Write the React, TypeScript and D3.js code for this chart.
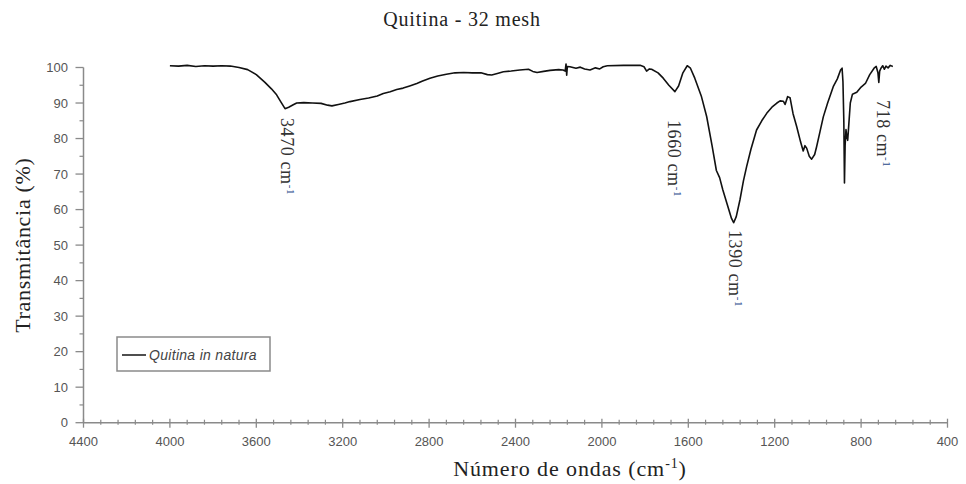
import React from "react";
import * as d3 from "d3";

// FTIR spectrum of chitin (32 mesh): wavenumber (cm-1) and transmittance (%)
const wavenumbers = [
  4000, 3960, 3920, 3880, 3840, 3800, 3760, 3720, 3680, 3640, 3600, 3560, 3530, 3506, 3485, 3467,
  3450, 3429, 3413, 3380, 3340, 3300, 3270, 3250, 3220, 3190, 3166, 3120, 3080, 3040, 3012, 2980,
  2950, 2920, 2890, 2857, 2830, 2796, 2760, 2720, 2680, 2640, 2600, 2560, 2530, 2510, 2480, 2456,
  2420, 2380, 2340, 2320, 2300, 2270, 2240, 2200, 2180, 2170, 2166, 2163, 2160, 2148, 2120, 2100,
  2080, 2055, 2030, 2010, 1994, 1975, 1900, 1823, 1805, 1793, 1780, 1770, 1740, 1716, 1690, 1662,
  1645, 1625, 1605, 1590, 1570, 1540, 1515, 1490, 1470, 1455, 1440, 1420, 1400, 1390, 1378, 1361,
  1345, 1330, 1310, 1284, 1260, 1237, 1210, 1190, 1175, 1160, 1152, 1140, 1129, 1115, 1098, 1080,
  1068, 1060, 1052, 1040, 1029, 1015, 1006, 990, 975, 955, 929, 910, 895, 888, 884, 880,
  877, 874, 870, 866, 862, 858, 850, 840, 820, 800, 780, 760, 740, 730, 722, 718,
  714, 708, 700, 692, 685, 675, 665, 653,
];
const transmittance = [
  100.5, 100.4, 100.6, 100.3, 100.5, 100.4, 100.5, 100.4, 100.0, 99.4, 98.0, 95.8, 94.0, 92.3, 90.2, 88.4,
  88.8, 89.5, 90.0, 90.1, 90.0, 89.9, 89.4, 89.2, 89.6, 90.0, 90.4, 91.0, 91.4, 92.0, 92.7, 93.2,
  93.8, 94.2, 94.8, 95.5, 96.2, 97.0, 97.6, 98.1, 98.5, 98.6, 98.5, 98.5, 98.0, 97.9, 98.4, 98.8,
  99.0, 99.3, 99.5, 98.9, 98.6, 98.9, 99.2, 99.4, 99.3, 99.0, 101.0, 97.8, 100.3, 100.2, 99.8, 100.1,
  99.6, 99.3, 99.9, 99.6, 100.2, 100.5, 100.6, 100.6, 100.2, 99.0, 99.6, 99.5, 98.5, 97.0, 95.0, 93.2,
  94.8, 98.5, 100.5, 99.8, 97.0, 92.0, 86.2, 78.0, 71.0, 69.0, 65.5, 61.5, 57.5, 56.3, 58.0, 62.7,
  68.0, 72.1, 77.0, 82.4, 85.0, 87.1, 89.0, 90.0, 90.6, 90.5, 89.6, 91.8, 91.5, 87.0, 83.3, 79.0,
  76.5, 78.0, 77.3, 75.0, 74.2, 75.5, 77.7, 82.0, 86.1, 90.0, 94.6, 96.8, 99.3, 99.8, 96.0, 85.0,
  67.5, 78.0, 82.5, 80.5, 79.5, 83.0, 90.0, 92.5, 93.0, 94.5, 95.5, 98.0, 99.8, 100.3, 98.5, 95.8,
  99.0, 99.8, 100.5, 99.5, 100.4, 99.9, 100.6, 100.3,
];

const xTickValues = [4400, 4000, 3600, 3200, 2800, 2400, 2000, 1600, 1200, 800, 400];
const yTickValues = [0, 10, 20, 30, 40, 50, 60, 70, 80, 90, 100];

// Labelled absorption bands
const bandLabels = ["3470", "1660", "1390", "718"];

const titleText = "Quitina - 32 mesh";
const xTitle = "Número de ondas (cm";
const yTitle = "Transmitância (%)";
const seriesName = ["Quitina ", "in natura"];

const W = 966;
const H = 484;

export default function App() {
  const x = d3.scaleLinear().domain([4400, 400]).range([83.5, 947.5]);
  const y = d3.scaleLinear().domain([0, 100]).range([422.7, 67.5]);

  const points = wavenumbers.map((w, i) => [w, transmittance[i]] as [number, number]);
  const line = d3
    .line<[number, number]>()
    .x((d) => x(d[0]))
    .y((d) => y(d[1]));

  const xMinor = d3.range(4400, 399, -80).filter((v) => !xTickValues.includes(v));
  const yMinor = d3.range(5, 100, 10);

  // label placement for each band: top of the text and its centre line
  const labelStart: Record<string, number> = { "3470": 118, "1660": 120, "1390": 230, "718": 100 };
  const labelX: Record<string, number> = { "3470": 287, "1660": 674, "1390": 735, "718": 883 };

  const axisColor = "#8a8a8a";
  const tickFont = "'Liberation Sans', Arial, sans-serif";
  const serif = "'Liberation Serif', 'Times New Roman', serif";

  return (
    <svg
      width={W}
      height={H}
      viewBox={`0 0 ${W} ${H}`}
      style={{ position: "fixed", left: 0, top: 0, background: "#fff" }}
    >
      <rect width={W} height={H} fill="#fff" />
      <text
        x={462}
        y={26}
        textAnchor="middle"
        fontFamily={serif}
        fontSize={20}
        letterSpacing={0.8}
        fill="#222"
      >
        {titleText}
      </text>

      {/* y axis */}
      <line x1={x(4400)} x2={x(4400)} y1={y(100)} y2={y(0)} stroke={axisColor} strokeWidth={1.5} />
      {yTickValues.map((v) => (
        <g key={"yt" + v}>
          <line x1={x(4400) - 8} x2={x(4400)} y1={y(v)} y2={y(v)} stroke={axisColor} strokeWidth={1.3} />
          <text
            x={68}
            y={y(v)}
            dy="0.35em"
            textAnchor="end"
            fontFamily={tickFont}
            fontSize={13}
            fill="#555"
          >
            {v}
          </text>
        </g>
      ))}
      {yMinor.map((v) => (
        <line key={"ym" + v} x1={x(4400) - 4} x2={x(4400)} y1={y(v)} y2={y(v)} stroke={axisColor} strokeWidth={1.2} />
      ))}

      {/* x axis */}
      <line x1={x(4400)} x2={x(400)} y1={y(0)} y2={y(0)} stroke={axisColor} strokeWidth={1.5} />
      {xTickValues.map((v) => (
        <g key={"xt" + v}>
          <line x1={x(v)} x2={x(v)} y1={y(0) - 4} y2={y(0) + 5} stroke={axisColor} strokeWidth={1.3} />
          <text
            x={x(v)}
            y={446}
            textAnchor="middle"
            fontFamily={tickFont}
            fontSize={13}
            fill="#555"
          >
            {v}
          </text>
        </g>
      ))}
      {xMinor.map((v) => (
        <line key={"xm" + v} x1={x(v)} x2={x(v)} y1={y(0) - 3} y2={y(0) + 2} stroke={axisColor} strokeWidth={1.2} />
      ))}

      {/* axis titles */}
      <text
        x={570}
        y={476}
        textAnchor="middle"
        fontFamily={serif}
        fontSize={22}
        letterSpacing={0.9}
        fill="#222"
      >
        {xTitle}
        <tspan dy={-8} fontSize={14}>-1</tspan>
        <tspan dy={8}>)</tspan>
      </text>
      <text
        transform={`translate(30,${y(50)}) rotate(-90)`}
        textAnchor="middle"
        fontFamily={serif}
        fontSize={22}
        letterSpacing={0.7}
        fill="#222"
      >
        {yTitle}
      </text>

      {/* spectrum */}
      <path d={line(points) ?? ""} fill="none" stroke="#111" strokeWidth={1.6} strokeLinejoin="round" />

      {/* band labels, rotated to read downward */}
      {bandLabels.map((key) => (
        <text
          key={"band" + key}
          transform={`translate(${labelX[key] - 6},${labelStart[key]}) rotate(90)`}
          fontFamily={serif}
          fontSize={18}
          letterSpacing={0.6}
          fill="#333"
        >
          {key} cm
          <tspan dy={-6} fontSize={11} fill="#2a4a8a">-1</tspan>
        </text>
      ))}

      {/* legend */}
      <rect x={117} y={337} width={153} height={34} fill="#fff" stroke="#8a8a8a" strokeWidth={1.5} />
      <line x1={122} x2={146} y1={355} y2={355} stroke="#222" strokeWidth={1.6} />
      <text
        x={149}
        y={359.5}
        fontFamily={tickFont}
        fontSize={14}
        fontStyle="italic"
        letterSpacing={0.3}
        fill="#444"
      >
        {seriesName[0]}
        <tspan>{seriesName[1]}</tspan>
      </text>
    </svg>
  );
}
